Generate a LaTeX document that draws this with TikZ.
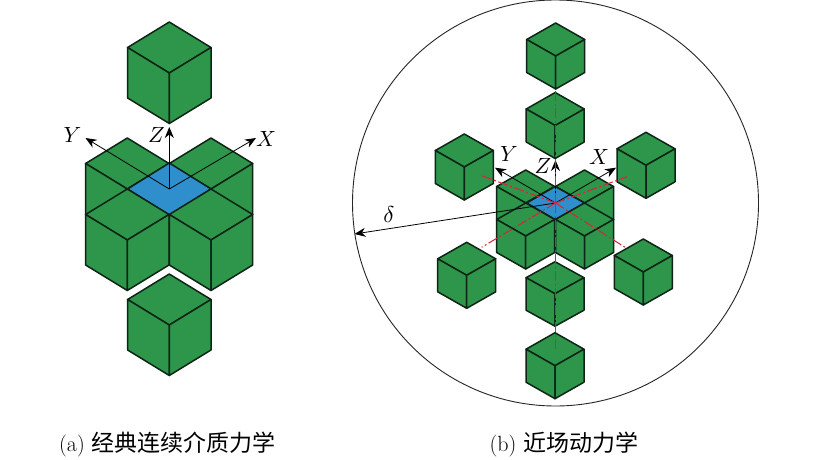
\documentclass[tikz,border=0pt]{standalone}
\usepackage{fontspec}
\usetikzlibrary{arrows.meta}
\newfontfamily\cjk{Noto Sans CJK SC}[Scale=1.045]
\definecolor{cubegreen}{HTML}{2D964A}
\definecolor{faceblue}{HTML}{2F8FCC}
\definecolor{edgedark}{HTML}{0E2416}
\definecolor{reddash}{HTML}{DC2236}
\tikzset{
  face/.style={draw=edgedark,fill=cubegreen,line width=1.5pt,line join=round},
  blueface/.style={draw=edgedark,fill=faceblue,line width=1.5pt,line join=round},
  axisline/.style={draw=black,line width=0.8pt,-{Stealth[length=11pt,width=9pt]}},
  axislabel/.style={scale=2.2,inner sep=0pt},
  greeklabel/.style={scale=2.3,inner sep=0pt},
  captext/.style={font=\fontsize{22}{25}\selectfont,inner sep=0pt,anchor=base},
  centreline/.style={draw=reddash,line width=1pt,dash pattern=on 10pt off 2.5pt on 2pt off 2.5pt},
}
% centre x, top y, half width, face drop, height
\newcommand{\isocube}[5]{%
  \path[face] (#1,#2) -- ++(-#3,#4) -- ++(#3,#4) -- ++(#3,-#4) -- cycle;
  \path[face] (#1-#3,#2+#4) -- ++(#3,#4) -- ++(0,#5) -- ++(-#3,-#4) -- cycle;
  \path[face] (#1+#3,#2+#4) -- ++(-#3,#4) -- ++(0,#5) -- ++(#3,-#4) -- cycle;
}
\begin{document}
\begin{tikzpicture}[x=1pt,y=-1pt]
\useasboundingbox (0,0) rectangle (822,460);
\fill[white] (0,0) rectangle (822,460);
% ---------- (a) ----------
\isocube{169.3}{22}{41.7}{25.5}{50.5}
\isocube{127.3}{138}{41.7}{25.5}{50.5}
\isocube{211}{138}{41.7}{25.5}{50.5}
\path[blueface] (169.3,163) -- (127.6,189) -- (169.3,215) -- (211,189) -- cycle;
\isocube{127.3}{189}{41.7}{25.5}{50.5}
\isocube{211}{189}{41.7}{25.5}{50.5}
\isocube{169.3}{274}{41.7}{25.5}{50.5}
\coordinate (Oa) at (169.3,189);
\coordinate (Xa) at (256,138);
\coordinate (Ya) at (85.5,138);
\coordinate (Za) at (169.3,127);
\draw[axisline] (Oa) -- (Xa);
\draw[axisline] (Oa) -- (Ya);
\draw[axisline] (Oa) -- (Za);
\node[axislabel] (lXa) at (266,139) {$X$};
\node[axislabel] (lYa) at (72.5,135) {$Y$};
\node[axislabel] (lZa) at (156.5,135) {$Z$};
% ---------- (b) ----------
\coordinate (Ob) at (555.5,203);
\draw[line width=0.9pt,draw=black!85] (Ob) circle[radius=203pt];
\isocube{555.7}{23}{29}{16.5}{33}
\isocube{555.2}{92.5}{29}{16.5}{33}
\isocube{464.3}{134}{29}{16.5}{33}
\isocube{646}{132.3}{29}{16.5}{33}
\isocube{466.7}{242.3}{29}{16.5}{33}
\isocube{643.3}{239}{29}{16.5}{33}
\isocube{525.7}{170}{29}{16.5}{33}
\isocube{584.5}{170}{29}{16.5}{33}
\path[blueface] (555.2,186.5) -- (526.7,203) -- (555.2,219.5) -- (584.5,203) -- cycle;
\isocube{525.7}{203}{29}{16.5}{33}
\isocube{584.5}{203}{29}{16.5}{33}
\isocube{555}{261.7}{29}{16}{32.5}
\isocube{555}{332.7}{29}{16.5}{33}
\coordinate (r1) at (555.5,89.5);
\coordinate (r2) at (555.5,350);
\coordinate (r3) at (480,175);
\coordinate (r4) at (627,176.7);
\coordinate (r5) at (481.7,247.3);
\coordinate (r6) at (625,247.3);
\coordinate (Xb) at (616,167.7);
\coordinate (Yb) at (495,167.7);
\coordinate (Zb) at (555.5,160);
\coordinate (Rb) at (354.5,234);
\draw[axisline] (Ob) -- (Xb);
\draw[axisline] (Ob) -- (Yb);
\draw[axisline] (Ob) -- (Zb);
\draw[axisline] (Ob) -- (Rb);
\foreach \e in {r1,r2,r3,r4,r5,r6} \draw[centreline] (Ob) -- (\e);
\node[axislabel] (lXb) at (599,157) {$X$};
\node[axislabel] (lYb) at (509,154) {$Y$};
\node[axislabel] (lZb) at (543,166) {$Z$};
\node[greeklabel] (ldelta) at (389,215) {$\delta$};
% ---------- captions ----------
\node[captext] (capa) at (167.5,451) {(a)\hspace{7pt}{\cjk 经典连续介质力学}};
\node[captext] (capb) at (564,451) {(b)\hspace{7pt}{\cjk 近场动力学}};
\end{tikzpicture}
\end{document}
